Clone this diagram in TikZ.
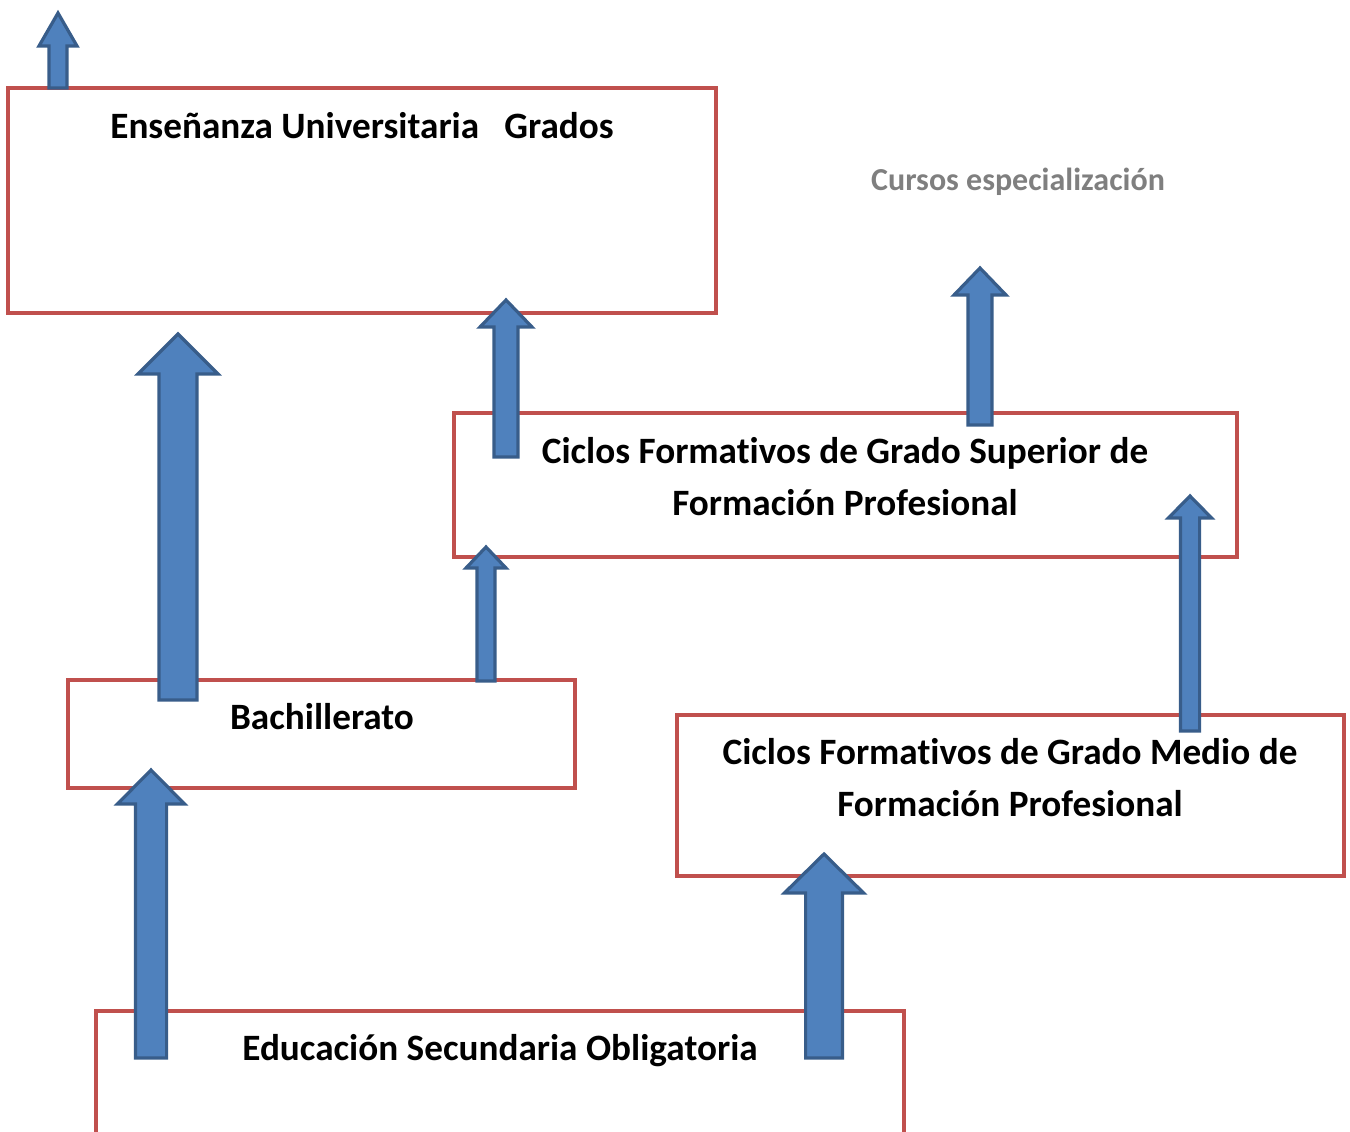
\documentclass[tikz,border=0pt]{standalone}
\usepackage{fontspec}
\setmainfont{Carlito}[Ligatures=NoCommon]
\usetikzlibrary{positioning,calc}

\definecolor{rojocaja}{HTML}{C0504D}
\definecolor{azulflecha}{HTML}{4F81BD}
\definecolor{azulborde}{HTML}{385D8A}
\definecolor{gristexto}{HTML}{7F7F7F}

\tikzstyle{caja} = [draw=rojocaja, fill=white, line width=2pt, rectangle, anchor=north west, inner sep=0pt, outer sep=0pt]
\tikzstyle{rotulo} = [font=\fontsize{18.6}{26}\selectfont\bfseries, align=center, anchor=base, inner sep=0pt]
\tikzstyle{nota} = [font=\fontsize{16}{20}\selectfont\bfseries, text=gristexto, anchor=base, inner sep=0pt]
% flecha de bloque: semiancho del cuerpo, semiancho de la punta, largo de la punta
\tikzset{flecha/.style n args={3}{draw=azulborde, fill=azulflecha, line width=1.6pt, line join=miter,
  to path={let \p1=(\tikztostart), \p2=(\tikztotarget) in
    (\x1-#1,\y1) -- (\x1-#1,\y2-#3) -- (\x1-#2,\y2-#3) -- (\x2,\y2)
    -- (\x1+#2,\y2-#3) -- (\x1+#1,\y2-#3) -- (\x1+#1,\y1) -- cycle}}}

\begin{document}
\begin{tikzpicture}[x=0.5pt, y=-0.5pt]
	\useasboundingbox (0,0) rectangle (1350,1131);
	\clip (0,0) rectangle (1350,1131);

	\node[caja, minimum width=354pt, minimum height=112.5pt] (univ) at (8,88) {};
	\node[caja, minimum width=391.5pt, minimum height=72pt] (cfgs) at (454,413) {};
	\node[caja, minimum width=253.5pt, minimum height=54pt] (bach) at (68,680) {};
	\node[caja, minimum width=333.5pt, minimum height=80.5pt] (cfgm) at (677,715) {};
	\node[caja, minimum width=404pt, minimum height=90pt] (eso) at (96,1011) {};

	\node[rotulo] (univ-txt) at (362,138) {Enseñanza Universitaria~~~Grados};
	\node[nota] (cursos) at (1018,190) {Cursos especialización};
	\node[rotulo] (cfgs-txt) at (845,515) {Ciclos Formativos de Grado Superior de\\Formación Profesional};
	\node[rotulo] (bach-txt) at (322,729) {Bachillerato};
	\node[rotulo] (cfgm-txt) at (1010,816) {Ciclos Formativos de Grado Medio de\\Formación Profesional};
	\node[rotulo] (eso-txt) at (500,1060) {Educación Secundaria Obligatoria};

	% extremos de las flechas
	\coordinate (univ-sal) at (58,88);
	\coordinate (arriba) at (58,13);
	\coordinate (bach-sal1) at (178,700);
	\coordinate (univ-ent1) at (178,334);
	\coordinate (cfgs-sal1) at (506,457);
	\coordinate (univ-ent2) at (506,300);
	\coordinate (cfgs-sal2) at (980,425);
	\coordinate (cursos-ent) at (980,268);
	\coordinate (bach-sal2) at (486,681);
	\coordinate (cfgs-ent1) at (486,547);
	\coordinate (cfgm-sal) at (1190,731);
	\coordinate (cfgs-ent2) at (1190,496);
	\coordinate (eso-sal1) at (151,1058);
	\coordinate (bach-ent) at (151,770);
	\coordinate (eso-sal2) at (824,1058);
	\coordinate (cfgm-ent) at (824,854);

	\draw[flecha={4.5pt}{9.5pt}{16.5pt}] (univ-sal) to (arriba);
	\draw[flecha={9.5pt}{20pt}{20pt}] (bach-sal1) to (univ-ent1);
	\draw[flecha={6pt}{13pt}{13.5pt}] (cfgs-sal1) to (univ-ent2);
	\draw[flecha={6pt}{13pt}{13.5pt}] (cfgs-sal2) to (cursos-ent);
	\draw[flecha={4.5pt}{10pt}{10.5pt}] (bach-sal2) to (cfgs-ent1);
	\draw[flecha={4.8pt}{10.8pt}{11pt}] (cfgm-sal) to (cfgs-ent2);
	\draw[flecha={7.8pt}{16.8pt}{17pt}] (eso-sal1) to (bach-ent);
	\draw[flecha={9.2pt}{19.8pt}{19.5pt}] (eso-sal2) to (cfgm-ent);
\end{tikzpicture}
\end{document}
